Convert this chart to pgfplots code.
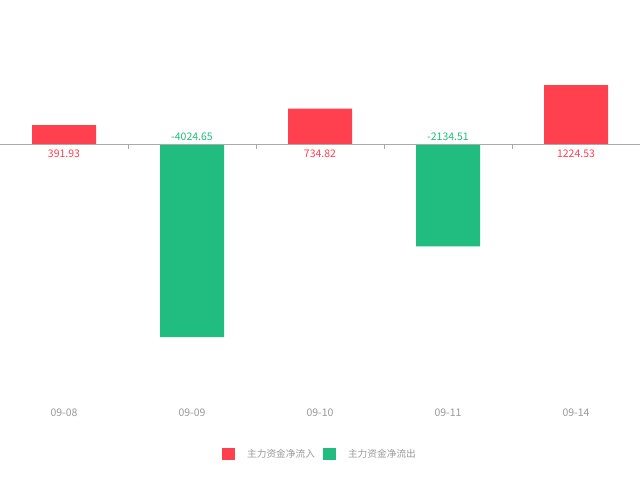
\documentclass[border=0pt]{standalone}
\usepackage{fontspec}
\setmainfont{Noto Sans CJK SC}
\usepackage{pgfplots}
\pgfplotsset{compat=1.18}

\definecolor{inred}{HTML}{FF404F}
\definecolor{outgreen}{HTML}{21BC7F}
\definecolor{labgray}{HTML}{9A9A9A}
\definecolor{linegray}{HTML}{AAAAAA}

\begin{document}
\begin{tikzpicture}
\path[use as bounding box, fill=white] (0,0) rectangle (640pt,480pt);
\begin{axis}[
  at={(0,80pt)}, anchor=south west,
  scale only axis, width=640pt, height=400pt,
  xmin=-0.5, xmax=4.5,
  ymin=-5333, ymax=3000,
  axis line style={draw=none},
  ytick=\empty,
  xtick={0,1,2,3,4},
  xticklabels={09-08,09-09,09-10,09-11,09-14},
  major tick length=0pt,
  xticklabel style={font=\fontsize{10.5}{12}\selectfont, text=labgray, yshift=-5pt},
  clip=false,
  legend columns=2,
  legend style={at={(rel axis cs:0.5,0)}, yshift=-54pt, anchor=center,
    draw=none, fill=none, font=\fontsize{9.7}{12}\selectfont,
    text=labgray, column sep=6pt},
  legend image code/.code={\fill[#1] (0pt,-6pt) rectangle (13pt,6pt);},
]
\addplot[ybar, bar width=0.5, bar shift=0pt, fill=inred, draw=none]
  coordinates {(0,391.93) (2,734.82) (4,1224.53)};
\addlegendentry{\hspace{4pt}主力资金净流入}
\addplot[ybar, bar width=0.5, bar shift=0pt, fill=outgreen, draw=none]
  coordinates {(1,-4024.65) (3,-2134.51)};
\addlegendentry{\hspace{4pt}主力资金净流出}
% value labels at the zero line
\addplot[draw=none, mark=none, forget plot, nodes near coords,
  point meta=explicit symbolic,
  every node near coord/.style={anchor=north, yshift=-2.5pt, text=inred,
    font=\fontsize{10.5}{12}\selectfont}]
  coordinates {(0,0)[391.93] (2,0)[734.82] (4,0)[1224.53]};
\addplot[draw=none, mark=none, forget plot, nodes near coords,
  point meta=explicit symbolic,
  every node near coord/.style={anchor=south, yshift=-0.5pt, text=outgreen,
    font=\fontsize{10.5}{12}\selectfont}]
  coordinates {(1,0)[-4024.65] (3,0)[-2134.51]};
% zero line and its ticks
\draw[linegray] (axis cs:-0.5,0) -- (axis cs:4.5,0);
\draw[linegray] (axis cs:0.5,0) -- ++(0pt,-5pt);
\draw[linegray] (axis cs:1.5,0) -- ++(0pt,-5pt);
\draw[linegray] (axis cs:2.5,0) -- ++(0pt,-5pt);
\draw[linegray] (axis cs:3.5,0) -- ++(0pt,-5pt);
\end{axis}
\end{tikzpicture}
\end{document}
